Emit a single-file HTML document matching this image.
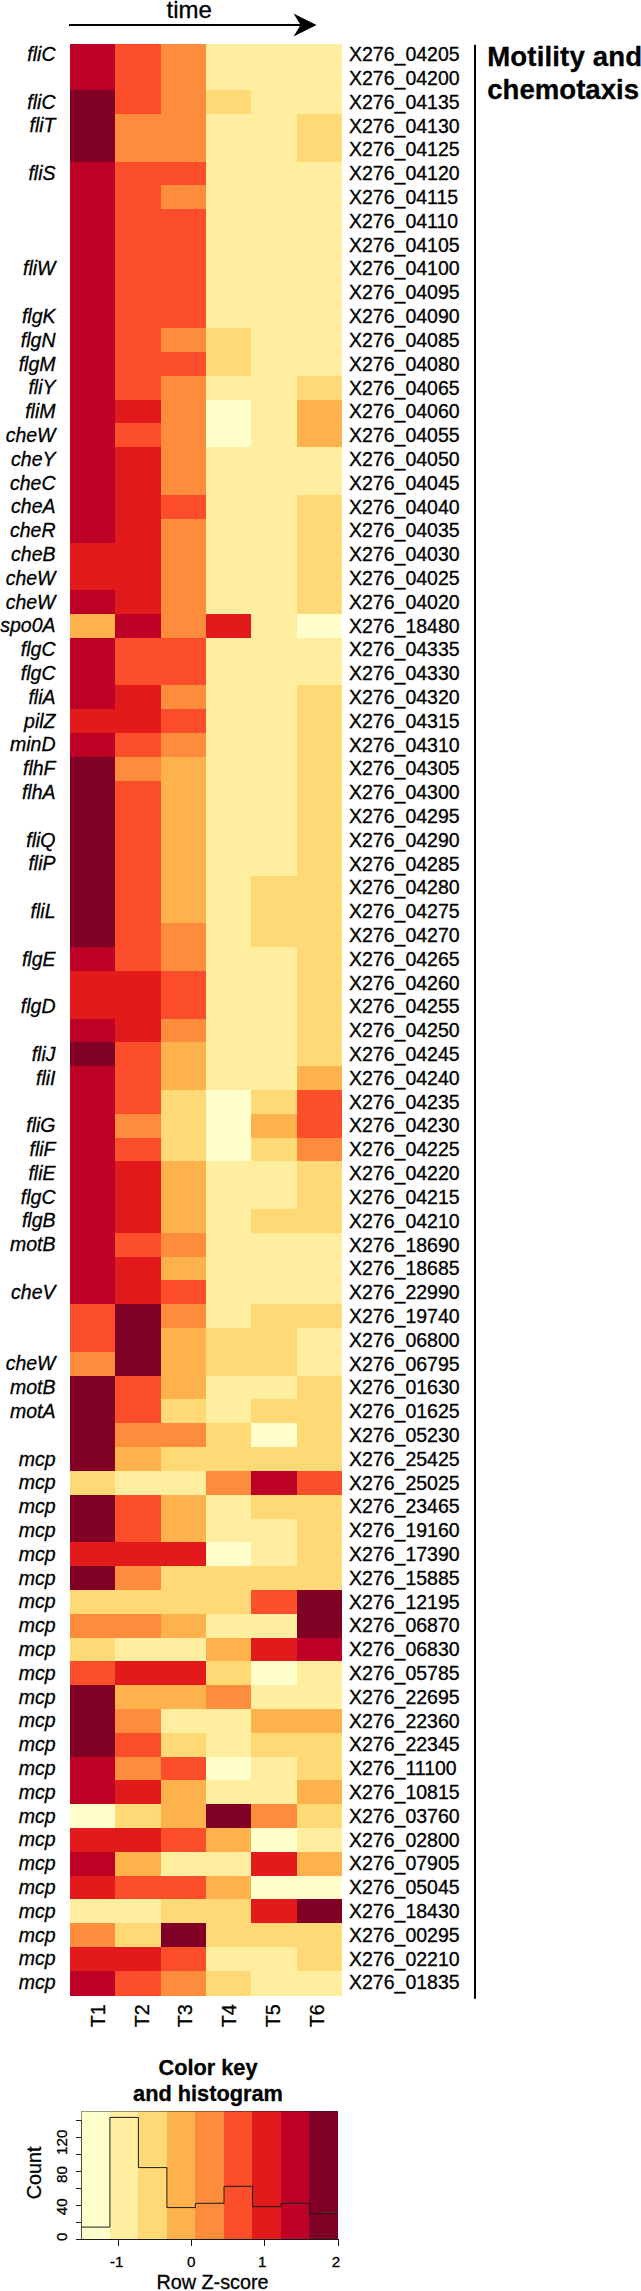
<!DOCTYPE html>
<html><head><meta charset="utf-8"><title>Motility and chemotaxis heatmap</title>
<style>html,body{margin:0;padding:0;background:#fff}svg{display:block}text{font-family:"Liberation Sans",sans-serif;fill:#000;stroke:#000;stroke-width:0.3px}</style></head><body>
<svg width="641" height="2291" viewBox="0 0 641 2291">
<rect width="641" height="2291" fill="#fff"/>
<text x="189.2" y="17.5" font-size="24" text-anchor="middle">time</text>
<line x1="69" y1="25" x2="301" y2="25" stroke="#000" stroke-width="2"/>
<path d="M316.6 25.1 L293.5 13.6 L300.6 25.1 L293.5 36.6 Z" fill="#000"/>
<g shape-rendering="crispEdges">
<rect x="70.00" y="44.00" width="45.63" height="46.61" fill="#BD0026"/>
<rect x="70.00" y="90.21" width="45.63" height="71.81" fill="#800026"/>
<rect x="70.00" y="161.62" width="45.63" height="381.28" fill="#BD0026"/>
<rect x="70.00" y="542.50" width="45.63" height="48.01" fill="#E31A1C"/>
<rect x="70.00" y="590.12" width="45.63" height="24.20" fill="#BD0026"/>
<rect x="70.00" y="613.92" width="45.63" height="24.21" fill="#FEB24C"/>
<rect x="70.00" y="637.73" width="45.63" height="71.81" fill="#BD0026"/>
<rect x="70.00" y="709.14" width="45.63" height="24.21" fill="#E31A1C"/>
<rect x="70.00" y="732.95" width="45.63" height="24.20" fill="#BD0026"/>
<rect x="70.00" y="756.75" width="45.63" height="190.84" fill="#800026"/>
<rect x="70.00" y="947.19" width="45.63" height="24.20" fill="#BD0026"/>
<rect x="70.00" y="971.00" width="45.63" height="48.01" fill="#E31A1C"/>
<rect x="70.00" y="1018.61" width="45.63" height="24.20" fill="#BD0026"/>
<rect x="70.00" y="1042.41" width="45.63" height="24.21" fill="#800026"/>
<rect x="70.00" y="1066.21" width="45.63" height="238.45" fill="#BD0026"/>
<rect x="70.00" y="1304.26" width="45.63" height="48.01" fill="#FC4E2A"/>
<rect x="70.00" y="1351.88" width="45.63" height="24.20" fill="#FD8D3C"/>
<rect x="70.00" y="1375.68" width="45.63" height="95.62" fill="#800026"/>
<rect x="70.00" y="1470.90" width="45.63" height="24.21" fill="#FED976"/>
<rect x="70.00" y="1494.70" width="45.63" height="48.01" fill="#800026"/>
<rect x="70.00" y="1542.31" width="45.63" height="24.21" fill="#E31A1C"/>
<rect x="70.00" y="1566.12" width="45.63" height="24.21" fill="#800026"/>
<rect x="70.00" y="1589.92" width="45.63" height="24.20" fill="#FED976"/>
<rect x="70.00" y="1613.73" width="45.63" height="24.21" fill="#FD8D3C"/>
<rect x="70.00" y="1637.53" width="45.63" height="24.21" fill="#FED976"/>
<rect x="70.00" y="1661.34" width="45.63" height="24.21" fill="#FC4E2A"/>
<rect x="70.00" y="1685.14" width="45.63" height="71.81" fill="#800026"/>
<rect x="70.00" y="1756.56" width="45.63" height="48.01" fill="#BD0026"/>
<rect x="70.00" y="1804.17" width="45.63" height="24.21" fill="#FFFFCC"/>
<rect x="70.00" y="1827.97" width="45.63" height="24.21" fill="#E31A1C"/>
<rect x="70.00" y="1851.78" width="45.63" height="24.20" fill="#BD0026"/>
<rect x="70.00" y="1875.58" width="45.63" height="24.21" fill="#E31A1C"/>
<rect x="70.00" y="1899.39" width="45.63" height="24.21" fill="#FFEDA0"/>
<rect x="70.00" y="1923.19" width="45.63" height="24.21" fill="#FD8D3C"/>
<rect x="70.00" y="1947.00" width="45.63" height="24.20" fill="#E31A1C"/>
<rect x="70.00" y="1970.80" width="45.63" height="24.80" fill="#BD0026"/>
<rect x="115.33" y="44.00" width="45.63" height="70.41" fill="#FC4E2A"/>
<rect x="115.33" y="114.01" width="45.63" height="48.01" fill="#FD8D3C"/>
<rect x="115.33" y="161.62" width="45.63" height="238.45" fill="#FC4E2A"/>
<rect x="115.33" y="399.68" width="45.63" height="24.21" fill="#E31A1C"/>
<rect x="115.33" y="423.48" width="45.63" height="24.21" fill="#FC4E2A"/>
<rect x="115.33" y="447.29" width="45.63" height="167.03" fill="#E31A1C"/>
<rect x="115.33" y="613.92" width="45.63" height="24.21" fill="#BD0026"/>
<rect x="115.33" y="637.73" width="45.63" height="48.01" fill="#FC4E2A"/>
<rect x="115.33" y="685.34" width="45.63" height="48.01" fill="#E31A1C"/>
<rect x="115.33" y="732.95" width="45.63" height="24.20" fill="#FC4E2A"/>
<rect x="115.33" y="756.75" width="45.63" height="24.21" fill="#FD8D3C"/>
<rect x="115.33" y="780.56" width="45.63" height="190.84" fill="#FC4E2A"/>
<rect x="115.33" y="971.00" width="45.63" height="71.81" fill="#E31A1C"/>
<rect x="115.33" y="1042.41" width="45.63" height="71.81" fill="#FC4E2A"/>
<rect x="115.33" y="1113.82" width="45.63" height="24.21" fill="#FD8D3C"/>
<rect x="115.33" y="1137.63" width="45.63" height="24.21" fill="#FC4E2A"/>
<rect x="115.33" y="1161.43" width="45.63" height="71.81" fill="#E31A1C"/>
<rect x="115.33" y="1232.85" width="45.63" height="24.21" fill="#FC4E2A"/>
<rect x="115.33" y="1256.65" width="45.63" height="48.01" fill="#E31A1C"/>
<rect x="115.33" y="1304.26" width="45.63" height="71.81" fill="#800026"/>
<rect x="115.33" y="1375.68" width="45.63" height="48.01" fill="#FC4E2A"/>
<rect x="115.33" y="1423.29" width="45.63" height="24.20" fill="#FD8D3C"/>
<rect x="115.33" y="1447.09" width="45.63" height="24.21" fill="#FEB24C"/>
<rect x="115.33" y="1470.90" width="45.63" height="24.21" fill="#FFEDA0"/>
<rect x="115.33" y="1494.70" width="45.63" height="48.01" fill="#FC4E2A"/>
<rect x="115.33" y="1542.31" width="45.63" height="24.21" fill="#E31A1C"/>
<rect x="115.33" y="1566.12" width="45.63" height="24.21" fill="#FD8D3C"/>
<rect x="115.33" y="1589.92" width="45.63" height="24.20" fill="#FED976"/>
<rect x="115.33" y="1613.73" width="45.63" height="24.21" fill="#FD8D3C"/>
<rect x="115.33" y="1637.53" width="45.63" height="24.21" fill="#FFEDA0"/>
<rect x="115.33" y="1661.34" width="45.63" height="24.21" fill="#E31A1C"/>
<rect x="115.33" y="1685.14" width="45.63" height="24.20" fill="#FEB24C"/>
<rect x="115.33" y="1708.95" width="45.63" height="24.21" fill="#FD8D3C"/>
<rect x="115.33" y="1732.75" width="45.63" height="24.21" fill="#FC4E2A"/>
<rect x="115.33" y="1756.56" width="45.63" height="24.20" fill="#FD8D3C"/>
<rect x="115.33" y="1780.36" width="45.63" height="24.21" fill="#E31A1C"/>
<rect x="115.33" y="1804.17" width="45.63" height="24.21" fill="#FED976"/>
<rect x="115.33" y="1827.97" width="45.63" height="24.21" fill="#E31A1C"/>
<rect x="115.33" y="1851.78" width="45.63" height="24.20" fill="#FEB24C"/>
<rect x="115.33" y="1875.58" width="45.63" height="24.21" fill="#FC4E2A"/>
<rect x="115.33" y="1899.39" width="45.63" height="24.21" fill="#FFEDA0"/>
<rect x="115.33" y="1923.19" width="45.63" height="24.21" fill="#FED976"/>
<rect x="115.33" y="1947.00" width="45.63" height="24.20" fill="#E31A1C"/>
<rect x="115.33" y="1970.80" width="45.63" height="24.80" fill="#FC4E2A"/>
<rect x="160.67" y="44.00" width="45.63" height="118.03" fill="#FD8D3C"/>
<rect x="160.67" y="161.62" width="45.63" height="24.20" fill="#FC4E2A"/>
<rect x="160.67" y="185.43" width="45.63" height="24.21" fill="#FD8D3C"/>
<rect x="160.67" y="209.23" width="45.63" height="119.43" fill="#FC4E2A"/>
<rect x="160.67" y="328.26" width="45.63" height="24.21" fill="#FD8D3C"/>
<rect x="160.67" y="352.06" width="45.63" height="24.21" fill="#FC4E2A"/>
<rect x="160.67" y="375.87" width="45.63" height="119.43" fill="#FD8D3C"/>
<rect x="160.67" y="494.90" width="45.63" height="24.21" fill="#FC4E2A"/>
<rect x="160.67" y="518.70" width="45.63" height="119.42" fill="#FD8D3C"/>
<rect x="160.67" y="637.73" width="45.63" height="48.01" fill="#FC4E2A"/>
<rect x="160.67" y="685.34" width="45.63" height="24.20" fill="#FD8D3C"/>
<rect x="160.67" y="709.14" width="45.63" height="24.21" fill="#FC4E2A"/>
<rect x="160.67" y="732.95" width="45.63" height="24.20" fill="#FD8D3C"/>
<rect x="160.67" y="756.75" width="45.63" height="167.03" fill="#FEB24C"/>
<rect x="160.67" y="923.38" width="45.63" height="48.01" fill="#FD8D3C"/>
<rect x="160.67" y="971.00" width="45.63" height="48.01" fill="#FC4E2A"/>
<rect x="160.67" y="1018.61" width="45.63" height="24.20" fill="#FD8D3C"/>
<rect x="160.67" y="1042.41" width="45.63" height="48.01" fill="#FEB24C"/>
<rect x="160.67" y="1090.02" width="45.63" height="71.81" fill="#FED976"/>
<rect x="160.67" y="1161.43" width="45.63" height="71.81" fill="#FEB24C"/>
<rect x="160.67" y="1232.85" width="45.63" height="24.21" fill="#FD8D3C"/>
<rect x="160.67" y="1256.65" width="45.63" height="24.20" fill="#FEB24C"/>
<rect x="160.67" y="1280.46" width="45.63" height="24.21" fill="#FC4E2A"/>
<rect x="160.67" y="1304.26" width="45.63" height="24.21" fill="#FD8D3C"/>
<rect x="160.67" y="1328.07" width="45.63" height="71.81" fill="#FEB24C"/>
<rect x="160.67" y="1399.48" width="45.63" height="24.21" fill="#FED976"/>
<rect x="160.67" y="1423.29" width="45.63" height="24.20" fill="#FD8D3C"/>
<rect x="160.67" y="1447.09" width="45.63" height="24.21" fill="#FED976"/>
<rect x="160.67" y="1470.90" width="45.63" height="24.21" fill="#FFEDA0"/>
<rect x="160.67" y="1494.70" width="45.63" height="48.01" fill="#FEB24C"/>
<rect x="160.67" y="1542.31" width="45.63" height="24.21" fill="#E31A1C"/>
<rect x="160.67" y="1566.12" width="45.63" height="48.01" fill="#FED976"/>
<rect x="160.67" y="1613.73" width="45.63" height="24.21" fill="#FEB24C"/>
<rect x="160.67" y="1637.53" width="45.63" height="24.21" fill="#FFEDA0"/>
<rect x="160.67" y="1661.34" width="45.63" height="24.21" fill="#E31A1C"/>
<rect x="160.67" y="1685.14" width="45.63" height="24.20" fill="#FEB24C"/>
<rect x="160.67" y="1708.95" width="45.63" height="24.21" fill="#FFEDA0"/>
<rect x="160.67" y="1732.75" width="45.63" height="24.21" fill="#FED976"/>
<rect x="160.67" y="1756.56" width="45.63" height="24.20" fill="#FC4E2A"/>
<rect x="160.67" y="1780.36" width="45.63" height="48.01" fill="#FEB24C"/>
<rect x="160.67" y="1827.97" width="45.63" height="24.21" fill="#FC4E2A"/>
<rect x="160.67" y="1851.78" width="45.63" height="24.20" fill="#FFEDA0"/>
<rect x="160.67" y="1875.58" width="45.63" height="24.21" fill="#FC4E2A"/>
<rect x="160.67" y="1899.39" width="45.63" height="24.21" fill="#FED976"/>
<rect x="160.67" y="1923.19" width="45.63" height="24.21" fill="#800026"/>
<rect x="160.67" y="1947.00" width="45.63" height="24.20" fill="#FC4E2A"/>
<rect x="160.67" y="1970.80" width="45.63" height="24.80" fill="#FD8D3C"/>
<rect x="206.00" y="44.00" width="45.63" height="46.61" fill="#FFEDA0"/>
<rect x="206.00" y="90.21" width="45.63" height="24.20" fill="#FED976"/>
<rect x="206.00" y="114.01" width="45.63" height="214.65" fill="#FFEDA0"/>
<rect x="206.00" y="328.26" width="45.63" height="48.01" fill="#FED976"/>
<rect x="206.00" y="375.87" width="45.63" height="24.21" fill="#FFEDA0"/>
<rect x="206.00" y="399.68" width="45.63" height="48.01" fill="#FFFFCC"/>
<rect x="206.00" y="447.29" width="45.63" height="167.03" fill="#FFEDA0"/>
<rect x="206.00" y="613.92" width="45.63" height="24.21" fill="#E31A1C"/>
<rect x="206.00" y="637.73" width="45.63" height="452.69" fill="#FFEDA0"/>
<rect x="206.00" y="1090.02" width="45.63" height="71.81" fill="#FFFFCC"/>
<rect x="206.00" y="1161.43" width="45.63" height="167.03" fill="#FFEDA0"/>
<rect x="206.00" y="1328.07" width="45.63" height="48.01" fill="#FED976"/>
<rect x="206.00" y="1375.68" width="45.63" height="48.01" fill="#FFEDA0"/>
<rect x="206.00" y="1423.29" width="45.63" height="48.01" fill="#FED976"/>
<rect x="206.00" y="1470.90" width="45.63" height="24.21" fill="#FD8D3C"/>
<rect x="206.00" y="1494.70" width="45.63" height="48.01" fill="#FFEDA0"/>
<rect x="206.00" y="1542.31" width="45.63" height="24.21" fill="#FFFFCC"/>
<rect x="206.00" y="1566.12" width="45.63" height="48.01" fill="#FED976"/>
<rect x="206.00" y="1613.73" width="45.63" height="24.21" fill="#FFEDA0"/>
<rect x="206.00" y="1637.53" width="45.63" height="24.21" fill="#FEB24C"/>
<rect x="206.00" y="1661.34" width="45.63" height="24.21" fill="#FED976"/>
<rect x="206.00" y="1685.14" width="45.63" height="24.20" fill="#FD8D3C"/>
<rect x="206.00" y="1708.95" width="45.63" height="48.01" fill="#FFEDA0"/>
<rect x="206.00" y="1756.56" width="45.63" height="24.20" fill="#FFFFCC"/>
<rect x="206.00" y="1780.36" width="45.63" height="24.21" fill="#FFEDA0"/>
<rect x="206.00" y="1804.17" width="45.63" height="24.21" fill="#800026"/>
<rect x="206.00" y="1827.97" width="45.63" height="24.21" fill="#FEB24C"/>
<rect x="206.00" y="1851.78" width="45.63" height="24.20" fill="#FFEDA0"/>
<rect x="206.00" y="1875.58" width="45.63" height="24.21" fill="#FEB24C"/>
<rect x="206.00" y="1899.39" width="45.63" height="48.01" fill="#FED976"/>
<rect x="206.00" y="1947.00" width="45.63" height="24.20" fill="#FFEDA0"/>
<rect x="206.00" y="1970.80" width="45.63" height="24.80" fill="#FED976"/>
<rect x="251.33" y="44.00" width="45.63" height="832.17" fill="#FFEDA0"/>
<rect x="251.33" y="875.77" width="45.63" height="71.82" fill="#FED976"/>
<rect x="251.33" y="947.19" width="45.63" height="143.23" fill="#FFEDA0"/>
<rect x="251.33" y="1090.02" width="45.63" height="24.20" fill="#FED976"/>
<rect x="251.33" y="1113.82" width="45.63" height="24.21" fill="#FEB24C"/>
<rect x="251.33" y="1137.63" width="45.63" height="24.21" fill="#FED976"/>
<rect x="251.33" y="1161.43" width="45.63" height="48.01" fill="#FFEDA0"/>
<rect x="251.33" y="1209.04" width="45.63" height="24.21" fill="#FED976"/>
<rect x="251.33" y="1232.85" width="45.63" height="71.81" fill="#FFEDA0"/>
<rect x="251.33" y="1304.26" width="45.63" height="71.81" fill="#FED976"/>
<rect x="251.33" y="1375.68" width="45.63" height="24.21" fill="#FFEDA0"/>
<rect x="251.33" y="1399.48" width="45.63" height="24.21" fill="#FED976"/>
<rect x="251.33" y="1423.29" width="45.63" height="24.20" fill="#FFFFCC"/>
<rect x="251.33" y="1447.09" width="45.63" height="24.21" fill="#FED976"/>
<rect x="251.33" y="1470.90" width="45.63" height="24.21" fill="#BD0026"/>
<rect x="251.33" y="1494.70" width="45.63" height="24.21" fill="#FED976"/>
<rect x="251.33" y="1518.51" width="45.63" height="48.01" fill="#FFEDA0"/>
<rect x="251.33" y="1566.12" width="45.63" height="24.21" fill="#FED976"/>
<rect x="251.33" y="1589.92" width="45.63" height="24.20" fill="#FC4E2A"/>
<rect x="251.33" y="1613.73" width="45.63" height="24.21" fill="#FFEDA0"/>
<rect x="251.33" y="1637.53" width="45.63" height="24.21" fill="#E31A1C"/>
<rect x="251.33" y="1661.34" width="45.63" height="24.21" fill="#FFFFCC"/>
<rect x="251.33" y="1685.14" width="45.63" height="24.20" fill="#FFEDA0"/>
<rect x="251.33" y="1708.95" width="45.63" height="24.21" fill="#FEB24C"/>
<rect x="251.33" y="1732.75" width="45.63" height="24.21" fill="#FED976"/>
<rect x="251.33" y="1756.56" width="45.63" height="48.01" fill="#FFEDA0"/>
<rect x="251.33" y="1804.17" width="45.63" height="24.21" fill="#FD8D3C"/>
<rect x="251.33" y="1827.97" width="45.63" height="24.21" fill="#FFFFCC"/>
<rect x="251.33" y="1851.78" width="45.63" height="24.20" fill="#E31A1C"/>
<rect x="251.33" y="1875.58" width="45.63" height="24.21" fill="#FFFFCC"/>
<rect x="251.33" y="1899.39" width="45.63" height="24.21" fill="#E31A1C"/>
<rect x="251.33" y="1923.19" width="45.63" height="24.21" fill="#FED976"/>
<rect x="251.33" y="1947.00" width="45.63" height="48.60" fill="#FFEDA0"/>
<rect x="296.67" y="44.00" width="45.33" height="70.41" fill="#FFEDA0"/>
<rect x="296.67" y="114.01" width="45.33" height="48.01" fill="#FED976"/>
<rect x="296.67" y="161.62" width="45.33" height="214.65" fill="#FFEDA0"/>
<rect x="296.67" y="375.87" width="45.33" height="24.21" fill="#FED976"/>
<rect x="296.67" y="399.68" width="45.33" height="48.01" fill="#FEB24C"/>
<rect x="296.67" y="447.29" width="45.33" height="48.01" fill="#FFEDA0"/>
<rect x="296.67" y="494.90" width="45.33" height="119.42" fill="#FED976"/>
<rect x="296.67" y="613.92" width="45.33" height="24.21" fill="#FFFFCC"/>
<rect x="296.67" y="637.73" width="45.33" height="48.01" fill="#FFEDA0"/>
<rect x="296.67" y="685.34" width="45.33" height="381.28" fill="#FED976"/>
<rect x="296.67" y="1066.21" width="45.33" height="24.21" fill="#FEB24C"/>
<rect x="296.67" y="1090.02" width="45.33" height="48.01" fill="#FC4E2A"/>
<rect x="296.67" y="1137.63" width="45.33" height="24.21" fill="#FD8D3C"/>
<rect x="296.67" y="1161.43" width="45.33" height="71.81" fill="#FED976"/>
<rect x="296.67" y="1232.85" width="45.33" height="71.81" fill="#FFEDA0"/>
<rect x="296.67" y="1304.26" width="45.33" height="24.21" fill="#FED976"/>
<rect x="296.67" y="1328.07" width="45.33" height="48.01" fill="#FFEDA0"/>
<rect x="296.67" y="1375.68" width="45.33" height="95.62" fill="#FED976"/>
<rect x="296.67" y="1470.90" width="45.33" height="24.21" fill="#FC4E2A"/>
<rect x="296.67" y="1494.70" width="45.33" height="95.62" fill="#FED976"/>
<rect x="296.67" y="1589.92" width="45.33" height="48.01" fill="#800026"/>
<rect x="296.67" y="1637.53" width="45.33" height="24.21" fill="#BD0026"/>
<rect x="296.67" y="1661.34" width="45.33" height="48.01" fill="#FFEDA0"/>
<rect x="296.67" y="1708.95" width="45.33" height="24.21" fill="#FEB24C"/>
<rect x="296.67" y="1732.75" width="45.33" height="48.01" fill="#FED976"/>
<rect x="296.67" y="1780.36" width="45.33" height="24.21" fill="#FEB24C"/>
<rect x="296.67" y="1804.17" width="45.33" height="24.21" fill="#FED976"/>
<rect x="296.67" y="1827.97" width="45.33" height="24.21" fill="#FFEDA0"/>
<rect x="296.67" y="1851.78" width="45.33" height="24.20" fill="#FEB24C"/>
<rect x="296.67" y="1875.58" width="45.33" height="24.21" fill="#FFFFCC"/>
<rect x="296.67" y="1899.39" width="45.33" height="24.21" fill="#800026"/>
<rect x="296.67" y="1923.19" width="45.33" height="48.01" fill="#FED976"/>
<rect x="296.67" y="1970.80" width="45.33" height="24.80" fill="#FFEDA0"/>
</g>
<g font-size="19.5" font-style="italic" text-anchor="end">
<text x="55.5" y="61.0">fliC</text>
<text x="55.5" y="108.6">fliC</text>
<text x="55.5" y="132.4">fliT</text>
<text x="55.5" y="180.0">fliS</text>
<text x="55.5" y="275.2">fliW</text>
<text x="55.5" y="322.9">flgK</text>
<text x="55.5" y="346.7">flgN</text>
<text x="55.5" y="370.5">flgM</text>
<text x="55.5" y="394.3">fliY</text>
<text x="55.5" y="418.1">fliM</text>
<text x="55.5" y="441.9">cheW</text>
<text x="55.5" y="465.7">cheY</text>
<text x="55.5" y="489.5">cheC</text>
<text x="55.5" y="513.3">cheA</text>
<text x="55.5" y="537.1">cheR</text>
<text x="55.5" y="560.9">cheB</text>
<text x="55.5" y="584.7">cheW</text>
<text x="55.5" y="608.5">cheW</text>
<text x="55.5" y="632.3">spo0A</text>
<text x="55.5" y="656.1">flgC</text>
<text x="55.5" y="679.9">flgC</text>
<text x="55.5" y="703.7">fliA</text>
<text x="55.5" y="727.5">pilZ</text>
<text x="55.5" y="751.3">minD</text>
<text x="55.5" y="775.2">flhF</text>
<text x="55.5" y="799.0">flhA</text>
<text x="55.5" y="846.6">fliQ</text>
<text x="55.5" y="870.4">fliP</text>
<text x="55.5" y="918.0">fliL</text>
<text x="55.5" y="965.6">flgE</text>
<text x="55.5" y="1013.2">flgD</text>
<text x="55.5" y="1060.8">fliJ</text>
<text x="55.5" y="1084.6">fliI</text>
<text x="55.5" y="1132.2">fliG</text>
<text x="55.5" y="1156.0">fliF</text>
<text x="55.5" y="1179.8">fliE</text>
<text x="55.5" y="1203.6">flgC</text>
<text x="55.5" y="1227.4">flgB</text>
<text x="55.5" y="1251.3">motB</text>
<text x="55.5" y="1298.9">cheV</text>
<text x="55.5" y="1370.3">cheW</text>
<text x="55.5" y="1394.1">motB</text>
<text x="55.5" y="1417.9">motA</text>
<text x="55.5" y="1465.5">mcp</text>
<text x="55.5" y="1489.3">mcp</text>
<text x="55.5" y="1513.1">mcp</text>
<text x="55.5" y="1536.9">mcp</text>
<text x="55.5" y="1560.7">mcp</text>
<text x="55.5" y="1584.5">mcp</text>
<text x="55.5" y="1608.3">mcp</text>
<text x="55.5" y="1632.1">mcp</text>
<text x="55.5" y="1655.9">mcp</text>
<text x="55.5" y="1679.7">mcp</text>
<text x="55.5" y="1703.5">mcp</text>
<text x="55.5" y="1727.4">mcp</text>
<text x="55.5" y="1751.2">mcp</text>
<text x="55.5" y="1775.0">mcp</text>
<text x="55.5" y="1798.8">mcp</text>
<text x="55.5" y="1822.6">mcp</text>
<text x="55.5" y="1846.4">mcp</text>
<text x="55.5" y="1870.2">mcp</text>
<text x="55.5" y="1894.0">mcp</text>
<text x="55.5" y="1917.8">mcp</text>
<text x="55.5" y="1941.6">mcp</text>
<text x="55.5" y="1965.4">mcp</text>
<text x="55.5" y="1989.2">mcp</text>
</g>
<g font-size="19.5">
<text x="349" y="61.2">X276_04205</text>
<text x="349" y="85.0">X276_04200</text>
<text x="349" y="108.8">X276_04135</text>
<text x="349" y="132.6">X276_04130</text>
<text x="349" y="156.4">X276_04125</text>
<text x="349" y="180.2">X276_04120</text>
<text x="349" y="204.0">X276_04115</text>
<text x="349" y="227.8">X276_04110</text>
<text x="349" y="251.6">X276_04105</text>
<text x="349" y="275.4">X276_04100</text>
<text x="349" y="299.3">X276_04095</text>
<text x="349" y="323.1">X276_04090</text>
<text x="349" y="346.9">X276_04085</text>
<text x="349" y="370.7">X276_04080</text>
<text x="349" y="394.5">X276_04065</text>
<text x="349" y="418.3">X276_04060</text>
<text x="349" y="442.1">X276_04055</text>
<text x="349" y="465.9">X276_04050</text>
<text x="349" y="489.7">X276_04045</text>
<text x="349" y="513.5">X276_04040</text>
<text x="349" y="537.3">X276_04035</text>
<text x="349" y="561.1">X276_04030</text>
<text x="349" y="584.9">X276_04025</text>
<text x="349" y="608.7">X276_04020</text>
<text x="349" y="632.5">X276_18480</text>
<text x="349" y="656.3">X276_04335</text>
<text x="349" y="680.1">X276_04330</text>
<text x="349" y="703.9">X276_04320</text>
<text x="349" y="727.7">X276_04315</text>
<text x="349" y="751.5">X276_04310</text>
<text x="349" y="775.4">X276_04305</text>
<text x="349" y="799.2">X276_04300</text>
<text x="349" y="823.0">X276_04295</text>
<text x="349" y="846.8">X276_04290</text>
<text x="349" y="870.6">X276_04285</text>
<text x="349" y="894.4">X276_04280</text>
<text x="349" y="918.2">X276_04275</text>
<text x="349" y="942.0">X276_04270</text>
<text x="349" y="965.8">X276_04265</text>
<text x="349" y="989.6">X276_04260</text>
<text x="349" y="1013.4">X276_04255</text>
<text x="349" y="1037.2">X276_04250</text>
<text x="349" y="1061.0">X276_04245</text>
<text x="349" y="1084.8">X276_04240</text>
<text x="349" y="1108.6">X276_04235</text>
<text x="349" y="1132.4">X276_04230</text>
<text x="349" y="1156.2">X276_04225</text>
<text x="349" y="1180.0">X276_04220</text>
<text x="349" y="1203.8">X276_04215</text>
<text x="349" y="1227.6">X276_04210</text>
<text x="349" y="1251.5">X276_18690</text>
<text x="349" y="1275.3">X276_18685</text>
<text x="349" y="1299.1">X276_22990</text>
<text x="349" y="1322.9">X276_19740</text>
<text x="349" y="1346.7">X276_06800</text>
<text x="349" y="1370.5">X276_06795</text>
<text x="349" y="1394.3">X276_01630</text>
<text x="349" y="1418.1">X276_01625</text>
<text x="349" y="1441.9">X276_05230</text>
<text x="349" y="1465.7">X276_25425</text>
<text x="349" y="1489.5">X276_25025</text>
<text x="349" y="1513.3">X276_23465</text>
<text x="349" y="1537.1">X276_19160</text>
<text x="349" y="1560.9">X276_17390</text>
<text x="349" y="1584.7">X276_15885</text>
<text x="349" y="1608.5">X276_12195</text>
<text x="349" y="1632.3">X276_06870</text>
<text x="349" y="1656.1">X276_06830</text>
<text x="349" y="1679.9">X276_05785</text>
<text x="349" y="1703.7">X276_22695</text>
<text x="349" y="1727.6">X276_22360</text>
<text x="349" y="1751.4">X276_22345</text>
<text x="349" y="1775.2">X276_11100</text>
<text x="349" y="1799.0">X276_10815</text>
<text x="349" y="1822.8">X276_03760</text>
<text x="349" y="1846.6">X276_02800</text>
<text x="349" y="1870.4">X276_07905</text>
<text x="349" y="1894.2">X276_05045</text>
<text x="349" y="1918.0">X276_18430</text>
<text x="349" y="1941.8">X276_00295</text>
<text x="349" y="1965.6">X276_02210</text>
<text x="349" y="1989.4">X276_01835</text>
</g>
<line x1="475" y1="44.8" x2="475" y2="1998.7" stroke="#000" stroke-width="2"/>
<text x="487.2" y="65.9" font-size="27.6" font-weight="bold" textLength="154.8" lengthAdjust="spacing">Motility and</text>
<text x="487.2" y="98.9" font-size="27.6" font-weight="bold">chemotaxis</text>
<text transform="translate(104.7,2027.3) rotate(-90)" font-size="19.8">T1</text>
<text transform="translate(148.5,2027.3) rotate(-90)" font-size="19.8">T2</text>
<text transform="translate(192.3,2027.3) rotate(-90)" font-size="19.8">T3</text>
<text transform="translate(236.1,2027.3) rotate(-90)" font-size="19.8">T4</text>
<text transform="translate(279.9,2027.3) rotate(-90)" font-size="19.8">T5</text>
<text transform="translate(323.7,2027.3) rotate(-90)" font-size="19.8">T6</text>
<text x="208" y="2074.7" font-size="21.75" font-weight="bold" text-anchor="middle">Color key</text>
<text x="208" y="2101.3" font-size="21.75" font-weight="bold" text-anchor="middle">and histogram</text>
<g shape-rendering="crispEdges">
<rect x="81.40" y="2111.30" width="28.81" height="127.70" fill="#FFFFCC"/>
<rect x="109.91" y="2111.30" width="28.81" height="127.70" fill="#FFEDA0"/>
<rect x="138.42" y="2111.30" width="28.81" height="127.70" fill="#FED976"/>
<rect x="166.93" y="2111.30" width="28.81" height="127.70" fill="#FEB24C"/>
<rect x="195.44" y="2111.30" width="28.81" height="127.70" fill="#FD8D3C"/>
<rect x="223.96" y="2111.30" width="28.81" height="127.70" fill="#FC4E2A"/>
<rect x="252.47" y="2111.30" width="28.81" height="127.70" fill="#E31A1C"/>
<rect x="280.98" y="2111.30" width="28.81" height="127.70" fill="#BD0026"/>
<rect x="309.49" y="2111.30" width="28.51" height="127.70" fill="#800026"/>
</g>
<path d="M81.4 2227.1 V2227.1 H109.9 V2117.4 H138.4 V2167.6 H166.9 V2207.6 H195.4 V2203.3 H224.0 V2186.3 H252.5 V2206.7 H281.0 V2203.3 H309.5 V2213.5 H338.0" fill="none" stroke="#1c1c1c" stroke-width="1"/>
<g stroke="#1c1c1c" stroke-width="1" fill="none" shape-rendering="crispEdges">
<path d="M81.4 2239.0 V2111.3 H338.0" stroke-opacity="0.45"/>
<path d="M81.4 2239.0 V2120.0" stroke-opacity="0.6"/>
<path d="M81.4 2239.0 H76.0"/>
<path d="M81.4 2222.0 H76.0"/>
<path d="M81.4 2205.0 H76.0"/>
<path d="M81.4 2188.0 H76.0"/>
<path d="M81.4 2171.0 H76.0"/>
<path d="M81.4 2154.0 H76.0"/>
<path d="M81.4 2137.0 H76.0"/>
<path d="M81.4 2120.0 H76.0"/>
<path d="M81.4 2239.0 H338.0"/>
<path d="M118.1 2239.0 V2245.6"/>
<path d="M191.3 2239.0 V2245.6"/>
<path d="M264.6 2239.0 V2245.6"/>
<path d="M338.0 2239.0 V2245.6"/>
</g>
<text x="116.7" y="2266.5" font-size="15.2" text-anchor="middle">-1</text>
<text x="191.3" y="2266.5" font-size="15.2" text-anchor="middle">0</text>
<text x="262.3" y="2266.5" font-size="15.2" text-anchor="middle">1</text>
<text x="335.9" y="2266.5" font-size="15.2" text-anchor="middle">2</text>
<text transform="translate(66.5,2236.8) rotate(-90)" font-size="15.2" text-anchor="middle">0</text>
<text transform="translate(66.5,2206.7) rotate(-90)" font-size="15.2" text-anchor="middle">40</text>
<text transform="translate(66.5,2174.5) rotate(-90)" font-size="15.2" text-anchor="middle">80</text>
<text transform="translate(66.5,2142.3) rotate(-90)" font-size="15.2" text-anchor="middle">120</text>
<text transform="translate(41.4,2172.9) rotate(-90)" font-size="19.8" text-anchor="middle">Count</text>
<text x="212.5" y="2289.3" font-size="19.8" text-anchor="middle">Row Z-score</text>
</svg>
</body></html>
